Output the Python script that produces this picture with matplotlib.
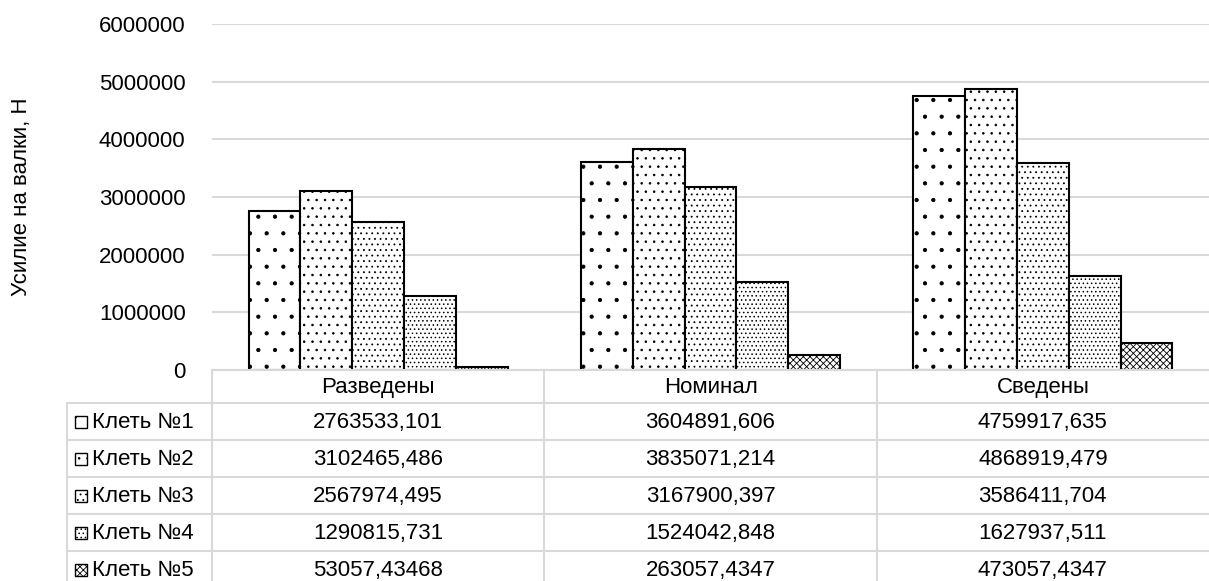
import numpy as np
import matplotlib
matplotlib.use("Agg")
import matplotlib.pyplot as plt
from matplotlib.lines import Line2D
from matplotlib.patches import Rectangle

plt.rcParams['font.family'] = ['Liberation Sans', 'DejaVu Sans']
plt.rcParams['hatch.linewidth'] = 0.6

# data
categories = ["Разведены", "Номинал", "Сведены"]
series_names = ["Клеть №1", "Клеть №2", "Клеть №3", "Клеть №4", "Клеть №5"]
kl1 = [2763533.101, 3604891.606, 4759917.635]
kl2 = [3102465.486, 3835071.214, 4868919.479]
kl3 = [2567974.495, 3167900.397, 3586411.704]
kl4 = [1290815.731, 1524042.848, 1627937.511]
kl5 = [53057.43468, 263057.4347, 473057.4347]
cell_text = [
    ["2763533,101", "3604891,606", "4759917,635"],
    ["3102465,486", "3835071,214", "4868919,479"],
    ["2567974,495", "3167900,397", "3586411,704"],
    ["1290815,731", "1524042,848", "1627937,511"],
    ["53057,43468", "263057,4347", "473057,4347"],
]
series = [kl1, kl2, kl3, kl4, kl5]
hatches = ['.', '..', '...', '....', 'xxxxx']

W, H = 1209, 581
fig = plt.figure(figsize=(W / 100, H / 100), dpi=100)

def fx(px):
    return px / W

def fy(py):
    return 1 - py / H

ax_left, ax_right, ax_top, ax_bot = 212, 1209, 24, 370
ax = fig.add_axes([fx(ax_left), fy(ax_bot), fx(ax_right - ax_left), (ax_bot - ax_top) / H])

x = np.arange(len(categories))
bw = 0.156
for i, vals in enumerate(series):
    ax.bar(x + (i - 2) * bw, vals, bw, color='white', edgecolor='black',
           linewidth=1.5, hatch=hatches[i], zorder=3)

ax.set_xlim(-0.5, 2.5)
ax.set_ylim(0, 6000000)
ax.set_yticks(np.arange(0, 6000001, 1000000))
ax.set_yticklabels([str(v) for v in range(0, 6000001, 1000000)])
ax.tick_params(axis='y', length=0, pad=19, labelsize=16)
ax.set_xticks([])
for s in ax.spines.values():
    s.set_visible(False)
ax.grid(axis='y', color='#d9d9d9', linewidth=1.5, zorder=0)
ax.set_axisbelow(True)

fig.text(fx(22), fy(197), "Усилие на валки, Н", rotation=90, fontsize=16,
         ha='center', va='center')

# data table under the chart
grid_c = '#d9d9d9'
col_edges = [ax_left + (ax_right - ax_left) * k / 3 for k in range(4)]
lab_left = 67
row_edges = [370, 403, 440, 477, 514, 551, 588]

def hline(y, x0, x1):
    fig.add_artist(Line2D([fx(x0), fx(x1)], [fy(y), fy(y)], color=grid_c, lw=1.5))

def vline(xp, y0, y1):
    fig.add_artist(Line2D([fx(xp), fx(xp)], [fy(y0), fy(y1)], color=grid_c, lw=1.5))

hline(row_edges[0], col_edges[0], col_edges[3])
for y in row_edges[1:]:
    hline(y, lab_left, col_edges[3])
for xp in col_edges[:3]:
    vline(xp, row_edges[0], row_edges[-1])
vline(lab_left, row_edges[1], row_edges[-1])

for j, cat in enumerate(categories):
    fig.text(fx((col_edges[j] + col_edges[j + 1]) / 2), fy((row_edges[0] + row_edges[1]) / 2 + 1),
             cat, ha='center', va='center', fontsize=16)

for i, name in enumerate(series_names):
    yc = (row_edges[i + 1] + row_edges[i + 2]) / 2
    fig.add_artist(Rectangle((fx(75), fy(yc + 6)), fx(12), 12 / H, facecolor='white',
                             edgecolor='black', lw=1.0, hatch=hatches[i],
                             transform=fig.transFigure))
    fig.text(fx(92), fy(yc + 1), name, ha='left', va='center', fontsize=16)
    for j in range(3):
        fig.text(fx((col_edges[j] + col_edges[j + 1]) / 2), fy(yc + 1), cell_text[i][j],
                 ha='center', va='center', fontsize=16)

fig.savefig("out.png", dpi=100)
